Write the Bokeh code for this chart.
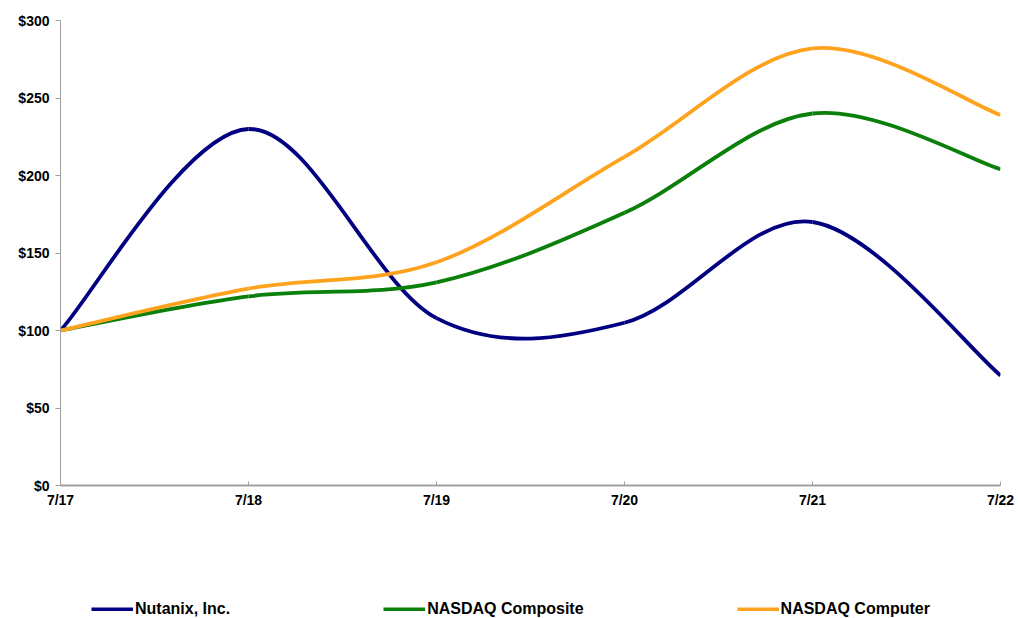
from bokeh.plotting import figure
from bokeh.layouts import column
from bokeh.models import FixedTicker, Legend, LegendItem, Range1d, NumeralTickFormatter
from bokeh.embed import file_html
from bokeh.resources import INLINE

dates = ["7/17", "7/18", "7/19", "7/20", "7/21", "7/22"]
nutanix = [100, 230, 108, 105, 170, 71]
composite = [100, 122, 131, 176, 240, 204]
computer = [100, 127, 144, 212, 282, 239]
series_names = ["Nutanix, Inc.", "NASDAQ Composite", "NASDAQ Computer"]
colors = ["#000080", "#0a7f0a", "#FFA31F"]

p = figure(width=1018, height=520, output_backend="svg", toolbar_location=None,
           x_range=Range1d(0, len(dates) - 1), y_range=Range1d(0, 300),
           min_border_left=60, min_border_right=18, min_border_top=20, min_border_bottom=35)
p.outline_line_color = None
p.grid.visible = False


def smooth(xs, ys):
    n = len(xs)
    segs = {"x0": [], "y0": [], "x1": [], "y1": [], "cx0": [], "cy0": [], "cx1": [], "cy1": []}
    for i in range(n - 1):
        p0 = (xs[max(i - 1, 0)], ys[max(i - 1, 0)])
        p1 = (xs[i], ys[i])
        p2 = (xs[i + 1], ys[i + 1])
        p3 = (xs[min(i + 2, n - 1)], ys[min(i + 2, n - 1)])
        segs["x0"].append(p1[0]); segs["y0"].append(p1[1])
        segs["x1"].append(p2[0]); segs["y1"].append(p2[1])
        segs["cx0"].append(p1[0] + (p2[0] - p0[0]) / 6)
        segs["cy0"].append(p1[1] + (p2[1] - p0[1]) / 6)
        segs["cx1"].append(p2[0] - (p3[0] - p1[0]) / 6)
        segs["cy1"].append(p2[1] - (p3[1] - p1[1]) / 6)
    return segs


xs = list(range(len(dates)))
for ys, c in zip([nutanix, composite, computer], colors):
    s = smooth(xs, ys)
    p.bezier(x0=s["x0"], y0=s["y0"], x1=s["x1"], y1=s["y1"],
             cx0=s["cx0"], cy0=s["cy0"], cx1=s["cx1"], cy1=s["cy1"],
             line_color=c, line_width=3.8)

axis_color = "#a0a0a0"
font = "Liberation Sans"

p.xaxis.ticker = FixedTicker(ticks=xs)
p.xaxis.major_label_overrides = {i: d for i, d in enumerate(dates)}
p.xaxis.axis_line_color = axis_color
p.xaxis.axis_line_width = 2
p.xaxis.major_tick_line_color = axis_color
p.xaxis.major_tick_in = 4
p.xaxis.major_tick_out = 0
p.xaxis.minor_tick_line_color = None
p.xaxis.major_label_standoff = 6
p.xaxis.major_label_text_font = font
p.xaxis.major_label_text_font_style = "bold"
p.xaxis.major_label_text_font_size = "14px"
p.xaxis.major_label_text_color = "#000000"

p.yaxis.ticker = FixedTicker(ticks=[0, 50, 100, 150, 200, 250, 300])
p.yaxis.formatter = NumeralTickFormatter(format="$0")
p.yaxis.axis_line_color = axis_color
p.yaxis.axis_line_width = 1
p.yaxis.major_tick_line_color = axis_color
p.yaxis.major_tick_in = 0
p.yaxis.major_tick_out = 5
p.yaxis.minor_tick_line_color = None
p.yaxis.major_label_standoff = 6
p.yaxis.major_label_text_font = font
p.yaxis.major_label_text_font_style = "bold"
p.yaxis.major_label_text_font_size = "14px"
p.yaxis.major_label_text_color = "#000000"

# legend strip below the chart
lg = figure(width=1018, height=98, output_backend="svg", toolbar_location=None,
            x_range=Range1d(0, 1), y_range=Range1d(0, 1),
            x_axis_location=None, y_axis_location=None,
            min_border=0, min_border_left=0, min_border_right=0,
            min_border_top=0, min_border_bottom=0)
lg.outline_line_color = None
lg.grid.visible = False
nan = float("nan")
items = []
for name, c in zip(series_names, colors):
    r = lg.line(x=[nan], y=[nan], line_color=c, line_width=4)
    items.append(LegendItem(label=name, renderers=[r]))

legend = Legend(items=items, orientation="horizontal", location=(31, 0),
                glyph_width=42, glyph_height=4, label_standoff=2, spacing=153,
                label_text_font=font, label_text_font_style="bold",
                label_text_font_size="16px", label_text_color="#000000",
                border_line_color=None,
                background_fill_alpha=0, padding=0, margin=0)
lg.add_layout(legend)

layout = column(p, lg, spacing=0)
open("out.html", "w").write(file_html(layout, INLINE))
